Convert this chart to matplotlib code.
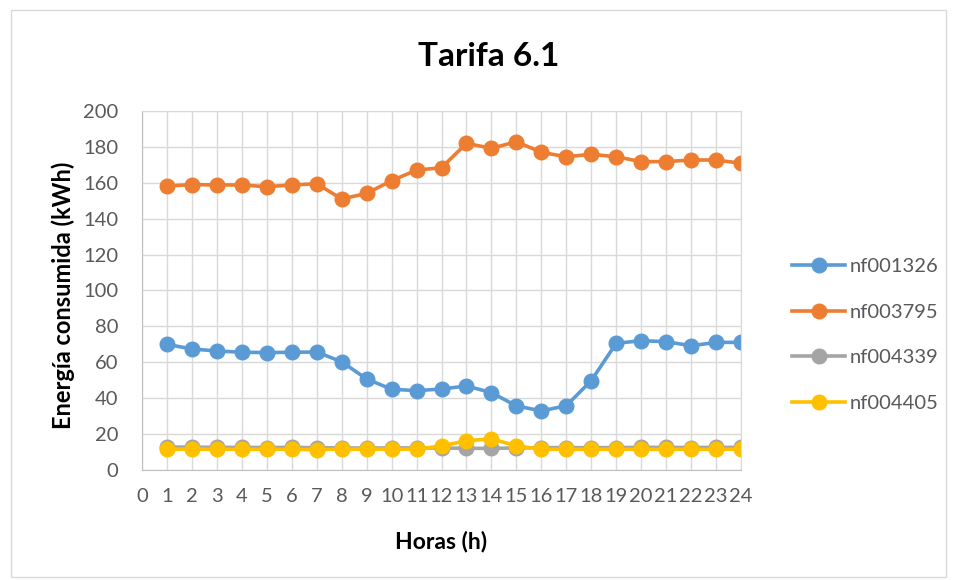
import numpy as np
import matplotlib.pyplot as plt
from matplotlib.patches import Rectangle

plt.rcParams['font.family'] = ['Lato', 'DejaVu Sans']

# hours
horas = list(range(1, 25))

# energy per hour (kWh) for each supply point
nf001326 = [70, 67.4, 66.3, 65.6, 65.4, 65.6, 65.7, 60.3, 50.7, 45, 44.2, 45.1,
            46.8, 43.1, 35.7, 32.9, 35.8, 49.8, 70.6, 72, 71.5, 69.2, 71.1, 71.1]
nf003795 = [158.2, 159, 158.8, 158.8, 157.8, 158.8, 159.5, 151, 154.1, 161.2, 167.1, 168.4,
            182, 179.2, 182.9, 177, 174.5, 175.9, 174.5, 171.8, 171.8, 172.7, 172.7, 170.9]
nf004339 = [12.8, 12.7, 12.6, 12.6, 12.5, 12.6, 12.4, 12.3, 12.2, 12.3, 12.3, 12.2,
            12.1, 12.0, 12.3, 12.4, 12.5, 12.4, 12.5, 12.6, 12.6, 12.5, 12.6, 12.6]
nf004405 = [11.5, 11.6, 11.5, 11.5, 11.5, 11.5, 11.3, 11.6, 11.6, 11.6, 11.6, 13.4,
            16.3, 17.3, 13.5, 11.5, 11.5, 11.5, 11.5, 11.5, 11.5, 11.5, 11.5, 11.5]

series = [('nf001326', nf001326, '#5B9BD5'),
          ('nf003795', nf003795, '#ED7D31'),
          ('nf004339', nf004339, '#A5A5A5'),
          ('nf004405', nf004405, '#FFC000')]

fig = plt.figure(figsize=(9.57, 5.8), dpi=100)
ax = fig.add_axes([0.1484, 0.1897, 0.6259, 0.6189])

for name, vals, col in series:
    ax.plot(horas, vals, color=col, lw=2.6, marker='o', ms=10.5, label=name)

ax.set_xlim(0, 24)
ax.set_ylim(0, 200)
ax.set_xticks(range(0, 25))
ax.set_yticks(range(0, 201, 20))
ax.grid(True, color='#D9D9D9', lw=1)
ax.set_axisbelow(True)
for s in ax.spines.values():
    s.set_color('#D9D9D9')
ax.spines['left'].set_color('#BFBFBF')
ax.spines['bottom'].set_color('#BFBFBF')
ax.tick_params(length=0, labelsize=14.5, colors='#595959')
ax.tick_params(axis='y', pad=17)
ax.tick_params(axis='x', pad=13)

ax.set_xlabel('Horas (h)', fontsize=16.5, fontweight='bold')
ax.xaxis.set_label_coords(0.5, -0.17)
ax.set_ylabel('Energía consumida (kWh)', fontsize=17, fontweight='bold', va='center')
ax.yaxis.set_label_coords(-0.132, 0.487)
fig.text(0.511, 0.902, 'Tarifa 6.1', ha='center', va='center', fontsize=24, fontweight='bold')

leg = ax.legend(loc='center left', bbox_to_anchor=(1.085, 0.376), frameon=False,
                fontsize=14.5, labelspacing=1.42, handlelength=2.64, handletextpad=0.25,
                borderaxespad=0, borderpad=0)
for t in leg.get_texts():
    t.set_color('#595959')

fig.patches.append(Rectangle((0.012, 0.005), 0.976, 0.978, transform=fig.transFigure,
                             fill=False, edgecolor='#D9D9D9', lw=1))

fig.savefig('out.png', dpi=100)
